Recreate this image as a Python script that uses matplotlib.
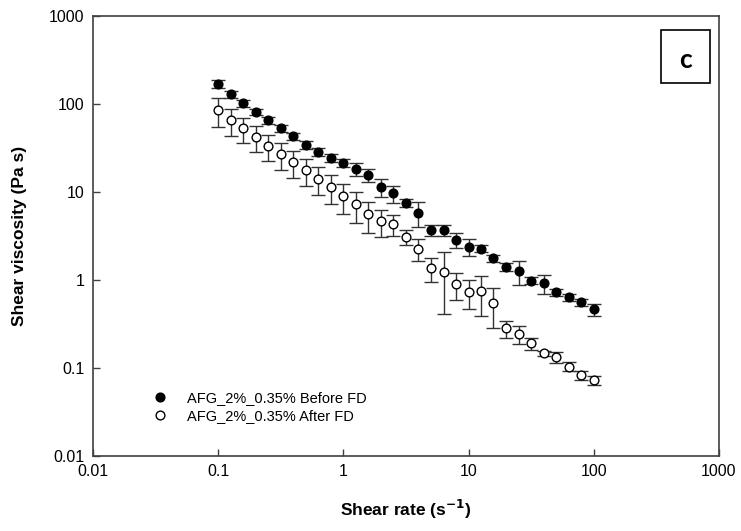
import numpy as np
import matplotlib
matplotlib.use('Agg')
import matplotlib.pyplot as plt
from matplotlib.patches import Rectangle
from matplotlib.lines import Line2D

plt.rcParams['font.family'] = ['Liberation Sans', 'DejaVu Sans']

# shear rate, 10 points per decade from 0.1 to 100 s^-1
shear_rate = [0.1, 0.126, 0.158, 0.2, 0.251, 0.316, 0.398, 0.501, 0.631, 0.794,
              1.0, 1.26, 1.58, 2.0, 2.51, 3.16, 3.98, 5.01, 6.31, 7.94,
              10.0, 12.6, 15.8, 20.0, 25.1, 31.6, 39.8, 50.1, 63.1, 79.4, 100.0]

# Before FD (filled)
visc_before = [169, 129, 102, 81.1, 65.3, 52.9, 42.9, 34.5, 28.5, 24.5,
               21.4, 18.2, 15.5, 11.3, 9.67, 7.56, 5.82, 3.70, 3.70, 2.85,
               2.39, 2.28, 1.77, 1.41, 1.26, 0.987, 0.918, 0.725, 0.636, 0.558, 0.465]
sd_before = [17, 11, 9, 7, 6, 5, 4, 3.5, 3, 2.5,
             2.2, 3.0, 2.6, 2.6, 2.1, 0.75, 1.8, 0.5, 0.5, 0.55,
             0.5, 0.2, 0.16, 0.14, 0.38, 0.09, 0.22, 0.07, 0.06, 0.05, 0.07]

# After FD (open)
visc_after = [85.5, 65.8, 52.9, 42.5, 33.6, 27.0, 21.7, 17.8, 14.2, 11.5,
              9.01, 7.25, 5.58, 4.72, 4.33, 3.10, 2.27, 1.36, 1.24, 0.90,
              0.736, 0.75, 0.543, 0.283, 0.245, 0.191, 0.147, 0.134, 0.104, 0.0832, 0.0731]
sd_after = [31, 22.5, 17, 13.8, 11.3, 9, 7.4, 6.1, 5, 4.1,
            3.35, 2.85, 2.15, 1.6, 1.2, 0.62, 0.62, 0.4, 0.83, 0.3,
            0.27, 0.36, 0.26, 0.062, 0.058, 0.03, 0.01, 0.019, 0.012, 0.01, 0.009]

labels = ['AFG_2%_0.35% Before FD', 'AFG_2%_0.35% After FD']

fig = plt.figure(figsize=(7.41, 5.31), dpi=100)
ax = fig.add_axes([0.1255, 0.1412, 0.8448, 0.8287])

ecol = '#333333'
ax.errorbar(shear_rate, visc_after, yerr=sd_after, fmt='o', ms=6.3,
            mfc='white', mec='black', mew=1.0, ecolor=ecol, elinewidth=1.0,
            capsize=4.7, capthick=1.0, zorder=3)
ax.errorbar(shear_rate, visc_before, yerr=sd_before, fmt='o', ms=6.3,
            mfc='black', mec='black', mew=1.0, ecolor=ecol, elinewidth=1.0,
            capsize=4.7, capthick=1.0, zorder=4)

ax.set_xscale('log')
ax.set_yscale('log')
ax.set_xlim(0.01, 1000)
ax.set_ylim(0.01, 1000)
ticks = [0.01, 0.1, 1, 10, 100, 1000]
tlabels = ['0.01', '0.1', '1', '10', '100', '1000']
ax.set_xticks(ticks)
ax.set_xticklabels(tlabels)
ax.set_yticks(ticks)
ax.set_yticklabels(tlabels)
ax.minorticks_off()
ax.tick_params(direction='in', length=5, width=1.0, color='#404040',
               labelsize=11.5, pad=6)

for s in ax.spines.values():
    s.set_color('#404040')
    s.set_linewidth(1.2)

ax.set_xlabel('Shear rate (s$^{\\mathbf{-1}}$)', fontsize=12.5, fontweight='bold', labelpad=13)
ax.set_ylabel('Shear viscosity (Pa s)', fontsize=12.5, fontweight='bold', labelpad=16)

handles = [Line2D([], [], ls='none', marker='o', ms=6.3, mfc='black', mec='black'),
           Line2D([], [], ls='none', marker='o', ms=6.3, mfc='white', mec='black')]
ax.legend(handles, labels, loc='lower left', bbox_to_anchor=(0.075, 0.045),
          frameon=False, fontsize=10.5, handletextpad=1.3,
          labelspacing=0.25, handlelength=1.0)

# panel label box
ax.add_patch(Rectangle((0.9073, 0.848), 0.078, 0.121, transform=ax.transAxes,
                       fill=False, ec='black', lw=1.2, zorder=5))
ax.text(0.9463, 0.9, 'c', transform=ax.transAxes, ha='center', va='center',
        fontsize=19, fontweight='bold', family=['Lato', 'DejaVu Sans'])

fig.savefig('out.png', dpi=100)
